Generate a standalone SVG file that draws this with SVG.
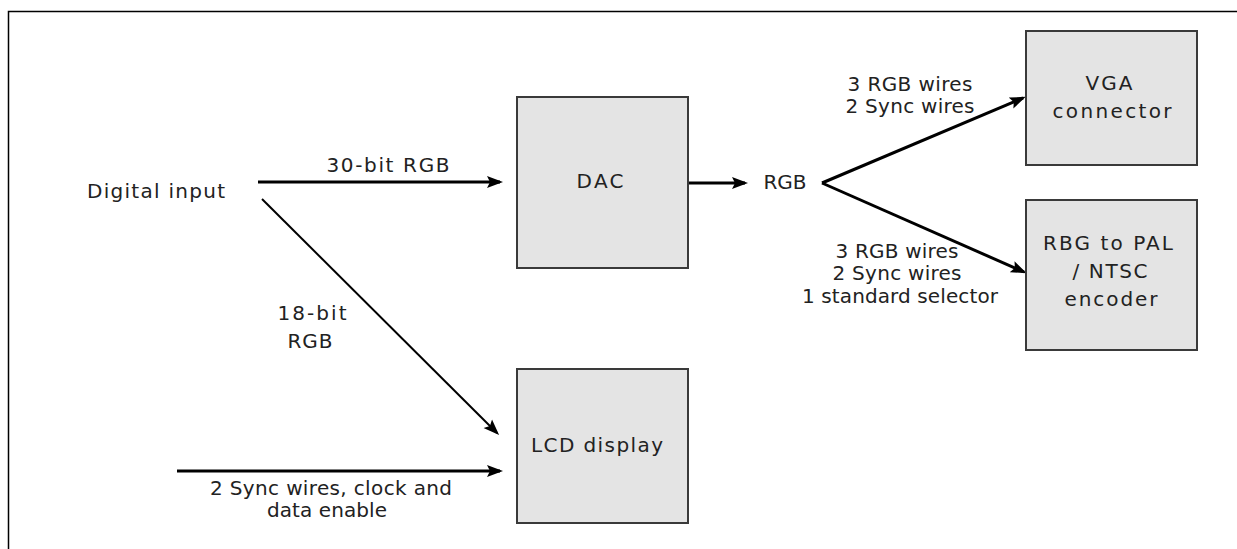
<svg xmlns="http://www.w3.org/2000/svg" width="1237" height="549" viewBox="0 0 1237 549">
  <style>
    .box { fill: #e4e4e4; stroke: #3a3a3a; stroke-width: 2; }
    .lbl { font-family: "DejaVu Sans", Verdana, sans-serif; font-size: 20px; fill: #222; text-anchor: middle; }
    .wire { stroke: #000; stroke-width: 3; fill: none; }
    .thin { stroke: #000; stroke-width: 2; fill: none; }
    .frame { stroke: #000; stroke-width: 1.5; fill: none; }
  </style>
  <defs>
    <marker id="arrow" markerUnits="userSpaceOnUse" markerWidth="18" markerHeight="14" refX="13" refY="7" orient="auto">
      <path d="M0,1 L16,7 L0,13 L3,7 z" fill="#000"/>
    </marker>
  </defs>

  <rect width="1237" height="549" fill="#fff"/>
  <!-- page frame (top and left edges) -->
  <path class="frame" d="M8.5,549 L8.5,11.5 L1237,11.5"/>

  <!-- connectors -->
  <g id="connectors">
    <line class="wire" x1="258" y1="182" x2="500" y2="182" marker-end="url(#arrow)"/>
    <line class="thin" x1="262" y1="199" x2="497" y2="433" marker-end="url(#arrow)"/>
    <line class="wire" x1="177" y1="471" x2="500" y2="471" marker-end="url(#arrow)"/>
    <line class="wire" x1="688" y1="183" x2="745" y2="183" marker-end="url(#arrow)"/>
    <line class="wire" x1="822" y1="183" x2="1023" y2="98" marker-end="url(#arrow)"/>
    <line class="wire" x1="822" y1="183" x2="1024" y2="272" marker-end="url(#arrow)"/>
  </g>

  <!-- connector labels -->
  <g id="labels">
    <text class="lbl" x="156" y="198" textLength="138" lengthAdjust="spacing">Digital input</text>
    <text class="lbl" x="388" y="172" textLength="123" lengthAdjust="spacing">30-bit RGB</text>
    <text class="lbl" x="312" y="320" textLength="69" lengthAdjust="spacing">18-bit</text>
    <text class="lbl" x="310" y="348" textLength="45" lengthAdjust="spacing">RGB</text>
    <text class="lbl" x="331" y="495" textLength="242" lengthAdjust="spacing">2 Sync wires, clock and</text>
    <text class="lbl" x="327" y="517" textLength="120" lengthAdjust="spacing">data enable</text>
    <text class="lbl" x="785" y="189" textLength="43" lengthAdjust="spacing">RGB</text>
    <text class="lbl" x="910" y="91" textLength="125" lengthAdjust="spacing">3 RGB wires</text>
    <text class="lbl" x="910" y="113" textLength="129" lengthAdjust="spacing">2 Sync wires</text>
    <text class="lbl" x="897" y="258" textLength="123" lengthAdjust="spacing">3 RGB wires</text>
    <text class="lbl" x="897" y="280" textLength="129" lengthAdjust="spacing">2 Sync wires</text>
    <text class="lbl" x="900" y="303" textLength="196" lengthAdjust="spacing">1 standard selector</text>
  </g>

  <g id="dac">
    <rect class="box" x="517" y="97" width="171" height="171"/>
    <text class="lbl" x="600" y="188" textLength="47" lengthAdjust="spacing">DAC</text>
  </g>

  <g id="lcd">
    <rect class="box" x="517" y="369" width="171" height="154"/>
    <text class="lbl" x="597" y="452" textLength="132" lengthAdjust="spacing">LCD display</text>
  </g>

  <g id="vga">
    <rect class="box" x="1026" y="31" width="171" height="134"/>
    <text class="lbl" x="1109" y="90" textLength="47" lengthAdjust="spacing">VGA</text>
    <text class="lbl" x="1112" y="118" textLength="119" lengthAdjust="spacing">connector</text>
  </g>

  <g id="encoder">
    <rect class="box" x="1026" y="200" width="171" height="150"/>
    <text class="lbl" x="1108" y="250" textLength="130" lengthAdjust="spacing">RBG to PAL</text>
    <text class="lbl" x="1110" y="278" textLength="75" lengthAdjust="spacing">/ NTSC</text>
    <text class="lbl" x="1111" y="306" textLength="93" lengthAdjust="spacing">encoder</text>
  </g>
</svg>
